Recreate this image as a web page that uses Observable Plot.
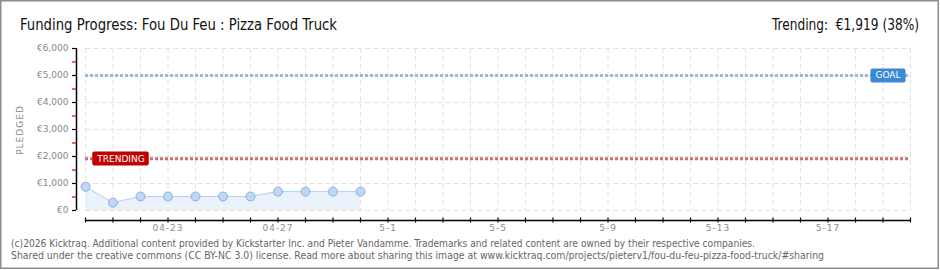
<!DOCTYPE html>
<html><head><meta charset="utf-8">
<script src="https://cdn.jsdelivr.net/npm/d3@7"></script>
<script src="https://cdn.jsdelivr.net/npm/@observablehq/plot@0.6"></script>
<style>
html,body{margin:0;padding:0;background:#fff;}
#chart{position:relative;width:940px;height:270px;overflow:hidden;}
</style>
</head><body>
<div id="chart"></div>
<script>
// ---- data ----
const dates = ["2026-04-20","2026-04-21","2026-04-22","2026-04-23","2026-04-24","2026-04-25","2026-04-26","2026-04-27","2026-04-28","2026-04-29","2026-04-30"];
const pledged = [880, 290, 520, 520, 520, 520, 520, 700, 700, 700, 700];
const goal = 5000;
const trending = 1919;
const xDomain = ["2026-04-20", "2026-05-20"];
const xLabelDates = ["2026-04-23","2026-04-27","2026-05-01","2026-05-05","2026-05-09","2026-05-13","2026-05-17"];
const xLabels = ["04-23","04-27","5-1","5-5","5-9","5-13","5-17"];
const yTicks = [0,1000,2000,3000,4000,5000,6000];
const yLabels = ["€0","€1,000","€2,000","€3,000","€4,000","€5,000","€6,000"];
const yMinor = [500,1500,2500,3500,4500,5500];
const title = "Funding Progress: Fou Du Feu : Pizza Food Truck";
const trendText = "Trending:  €1,919 (38%)";
const footer1 = "(c)2026 Kicktraq. Additional content provided by Kickstarter Inc. and Pieter Vandamme. Trademarks and related content are owned by their respective companies.";
const footer2 = "Shared under the creative commons (CC BY-NC 3.0) license. Read more about sharing this image at www.kicktraq.com/projects/pieterv1/fou-du-feu-pizza-food-truck/#sharing";

// ---- build ----
const data = dates.map((d, i) => ({date: new Date(d), value: pledged[i]}));
const x0 = new Date(xDomain[0]), x1 = new Date(xDomain[1]);
const days = d3.utcDay.range(x0, d3.utcDay.offset(x1, 1));
const yLabelMap = new Map(yTicks.map((v, i) => [v, yLabels[i]]));
const xLabelMap = new Map(xLabelDates.map((d, i) => [+new Date(d), xLabels[i]]));
const labelDates = xLabelDates.map(d => new Date(d));

const chart = Plot.plot({
  width: 940, height: 270,
  marginLeft: 85, marginRight: 30, marginTop: 48, marginBottom: 60,
  x: {type: "utc", domain: [x0, x1]},
  y: {domain: [0, 6000], label: null},
  style: {fontFamily: "DejaVu Sans", background: "transparent", overflow: "visible"},
  marks: [
    Plot.gridY(yTicks, {stroke: "#e2e2e2", strokeOpacity: 1, strokeDasharray: "5,3"}),
    Plot.gridX(days, {stroke: "#e2e2e2", strokeOpacity: 1, strokeDasharray: "5,3"}),
    Plot.areaY(data, {x: "date", y: "value", fill: "#eaf2fc"}),
    Plot.lineY(data, {x: "date", y: "value", stroke: "#b5d0ef", strokeWidth: 1}),
    Plot.ruleY([goal], {stroke: "#9ab8de", strokeWidth: 3, strokeDasharray: "3,2"}),
    Plot.ruleY([trending], {stroke: "#d46e6e", strokeWidth: 3, strokeDasharray: "3,2"}),
    Plot.dot(data, {x: "date", y: "value", r: 4.5, fill: "#bed7f4", stroke: "#8eb0da", strokeWidth: 1}),
    // y axis
    Plot.ruleX([x0], {y1: 0, y2: 6000, dx: -9, stroke: "#000", strokeWidth: 1.5}),
    Plot.axisY(yMinor, {tickSize: 4, dx: -9, stroke: "#e00000", strokeWidth: 1.2, tickFormat: () => ""}),
    Plot.axisY(yTicks, {tickSize: 4, tickPadding: 4, dx: -9, stroke: "#000", strokeWidth: 1.2, tickFormat: d => yLabelMap.get(d), fill: "#888", fontSize: 9}),
    // x axis
    Plot.ruleY([0], {dy: 10, stroke: "#000", strokeWidth: 1.5}),
    Plot.axisX(days, {tickSize: 5, dy: 7.5, stroke: "#000", strokeWidth: 1.2, tickFormat: () => ""}),
    Plot.axisX(labelDates, {tickSize: 0, tickPadding: 0, dy: 14, tickFormat: d => xLabelMap.get(+d), fill: "#8c8c8c", fontSize: 9}),
    // labels
    Plot.text([trending], {x: () => x0, y: d => d, text: ["TRENDING"], dx: 35.5, fill: "#fff", fontSize: 9}),
    Plot.text([goal], {x: () => x1, y: d => d, text: ["GOAL"], dx: -22.5, fill: "#fff", fontSize: 9})
  ]
});

document.getElementById("chart").appendChild(chart);
const svg = d3.select(chart);

// label boxes
function boxify(label, color, padX) {
  svg.selectAll("text").filter(function() { return this.textContent === label; }).each(function() {
    const b = this.getBBox();
    const t = this.getAttribute("transform");
    const r = document.createElementNS("http://www.w3.org/2000/svg", "rect");
    if (t) r.setAttribute("transform", t);
    r.setAttribute("x", b.x - padX); r.setAttribute("y", b.y - 2);
    r.setAttribute("width", b.width + 2 * padX); r.setAttribute("height", b.height + 4);
    r.setAttribute("rx", 2); r.setAttribute("fill", color);
    this.parentNode.insertBefore(r, this);
  });
}
boxify("TRENDING", "#c00000", 4);
boxify("GOAL", "#3a88d6", 5);
const xLabelSet = new Set(xLabels);
svg.selectAll("text").filter(function() { return xLabelSet.has(this.textContent); }).style("letter-spacing", "1px");

// texts
function addText(str, x, y, opts) {
  const t = svg.append("text").text(str).attr("x", x).attr("y", y)
    .attr("font-family", opts.font).attr("font-size", opts.size).attr("fill", opts.fill)
    .attr("text-anchor", opts.anchor || "start");
  if (opts.len) t.attr("textLength", opts.len).attr("lengthAdjust", "spacingAndGlyphs");
  if (opts.rotate) t.attr("transform", `rotate(-90,${x},${y})`);
  if (opts.ls) t.style("letter-spacing", opts.ls);
  return t;
}
addText(title, 20, 29.5, {font: "Liberation Sans Narrow, DejaVu Sans Condensed, sans-serif", size: 15, fill: "#111", len: 317});
addText(trendText, 772, 29.5, {font: "Liberation Sans Narrow, DejaVu Sans Condensed, sans-serif", size: 15, fill: "#111", len: 147});
addText(footer1, 11, 247, {font: "DejaVu Sans Condensed, DejaVu Sans, sans-serif", size: 10, fill: "#666", len: 744});
addText(footer2, 11, 258.5, {font: "DejaVu Sans Condensed, DejaVu Sans, sans-serif", size: 10, fill: "#666", len: 813});
addText("PLEDGED", 23, 130, {font: "DejaVu Sans", size: 9, fill: "#888", anchor: "middle", rotate: true, ls: "1px"});

// border
svg.append("rect").attr("x", 0.75).attr("y", 0.75).attr("width", 937.5).attr("height", 267.5)
  .attr("fill", "none").attr("stroke", "#8c8c8c").attr("stroke-width", 1.5);
</script>
</body></html>
